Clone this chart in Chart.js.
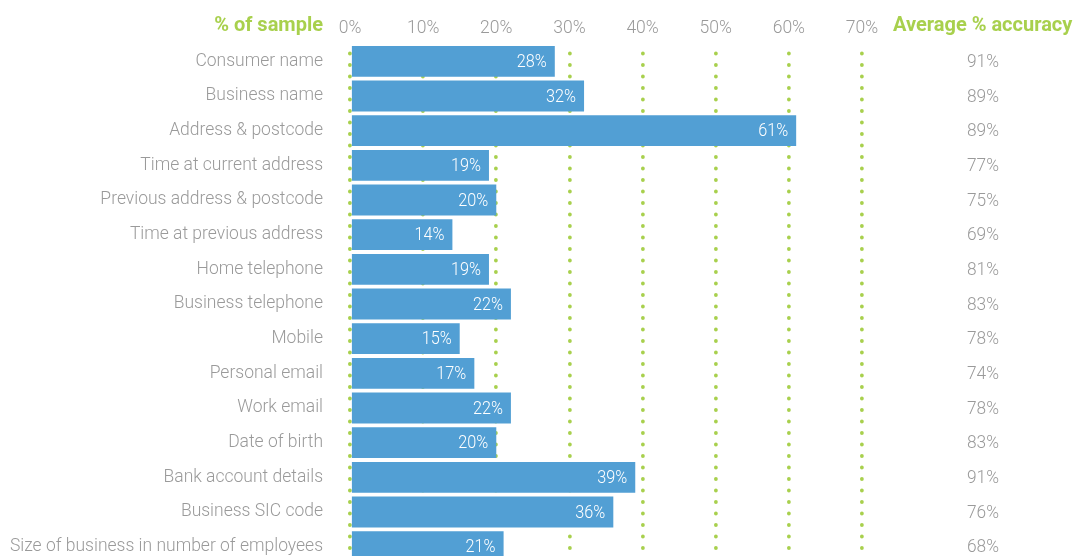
<!DOCTYPE html>
<html>
<head>
<meta charset="utf-8">
<script src="https://cdn.jsdelivr.net/npm/chart.js@4/dist/chart.umd.min.js"></script>
<style>
  html, body { margin: 0; padding: 0; background: #fff; overflow: hidden; }
</style>
</head>
<body>
<canvas id="chart" width="1084" height="564"></canvas>
<script>
const categories = [
  'Consumer name', 'Business name', 'Address & postcode', 'Time at current address',
  'Previous address & postcode', 'Time at previous address', 'Home telephone',
  'Business telephone', 'Mobile', 'Personal email', 'Work email', 'Date of birth',
  'Bank account details', 'Business SIC code', 'Size of business in number of employees'
];
const sampleShare = [28, 32, 61, 19, 20, 14, 19, 22, 15, 17, 22, 20, 39, 36, 21];
const accuracy = [91, 89, 89, 77, 75, 69, 81, 83, 78, 74, 78, 83, 91, 76, 68];

const FONT = "Roboto, 'Liberation Sans', sans-serif";
const GREY = '#9a9a9a';
const GREEN = '#a8d04d';
const BLUE = '#529fd4';

// round dots for the dotted grid lines
const roundCaps = {
  id: 'roundCaps',
  beforeDraw(chart) { chart.ctx.lineCap = 'round'; },
  afterDraw(chart) { chart.ctx.lineCap = 'butt'; }
};

// value labels inside the bars
const barLabels = {
  id: 'barLabels',
  afterDatasetsDraw(chart) {
    const ctx = chart.ctx;
    const meta = chart.getDatasetMeta(0);
    ctx.save();
    ctx.font = '300 18px ' + FONT;
    ctx.fillStyle = '#ffffff';
    ctx.textAlign = 'right';
    ctx.textBaseline = 'middle';
    meta.data.forEach((bar, i) => {
      ctx.fillText(sampleShare[i] + '%', bar.x - 8, bar.y + 1, 30);
    });
    ctx.restore();
  }
};

// headers and the accuracy column on the right
const sideText = {
  id: 'sideText',
  afterDraw(chart) {
    const ctx = chart.ctx;
    const y = chart.scales.y;
    ctx.save();
    ctx.textBaseline = 'middle';
    ctx.font = 'bold 20px ' + FONT;
    ctx.fillStyle = GREEN;
    ctx.textAlign = 'right';
    ctx.fillText('% of sample', 323, 26, 114);
    ctx.textAlign = 'left';
    ctx.fillText('Average % accuracy', 893, 26, 183);

    ctx.font = '300 18px ' + FONT;
    ctx.fillStyle = GREY;
    ctx.textAlign = 'center';
    accuracy.forEach((v, i) => {
      ctx.fillText(v + '%', 983, y.getPixelForValue(i) + 1, 32);
    });
    ctx.restore();
  }
};

new Chart(document.getElementById('chart'), {
  type: 'bar',
  data: {
    labels: categories,
    datasets: [{
      label: '% of sample',
      data: sampleShare,
      backgroundColor: BLUE,
      borderWidth: 0,
      barPercentage: 0.89,
      categoryPercentage: 1
    }]
  },
  options: {
    indexAxis: 'y',
    responsive: false,
    animation: false,
    layout: { padding: { left: 0, right: 222, top: 0, bottom: 0 } },
    plugins: {
      legend: { display: false },
      tooltip: { enabled: false }
    },
    scales: {
      x: {
        position: 'top',
        min: 0,
        max: 70,
        afterFit(scale) { scale.height = 44; },
        ticks: {
          stepSize: 10,
          color: GREY,
          font: { family: FONT, size: 17.5, weight: '300' },
          padding: 5,
          callback: v => v + '%'
        },
        grid: {
          color: GREEN,
          lineWidth: 3.8,
          drawTicks: false
        },
        border: { display: false, dash: [0, 11.5], dashOffset: 2 }
      },
      y: {
        afterFit(scale) {
          scale.width = 350;
          scale.paddingTop = 0;
          scale.paddingBottom = 0;
        },
        ticks: {
          color: GREY,
          font: { family: FONT, size: 17.5, weight: '300' },
          padding: 27
        },
        grid: { display: false, drawTicks: false },
        border: { display: false }
      }
    }
  },
  plugins: [roundCaps, barLabels, sideText]
});
</script>
</body>
</html>
